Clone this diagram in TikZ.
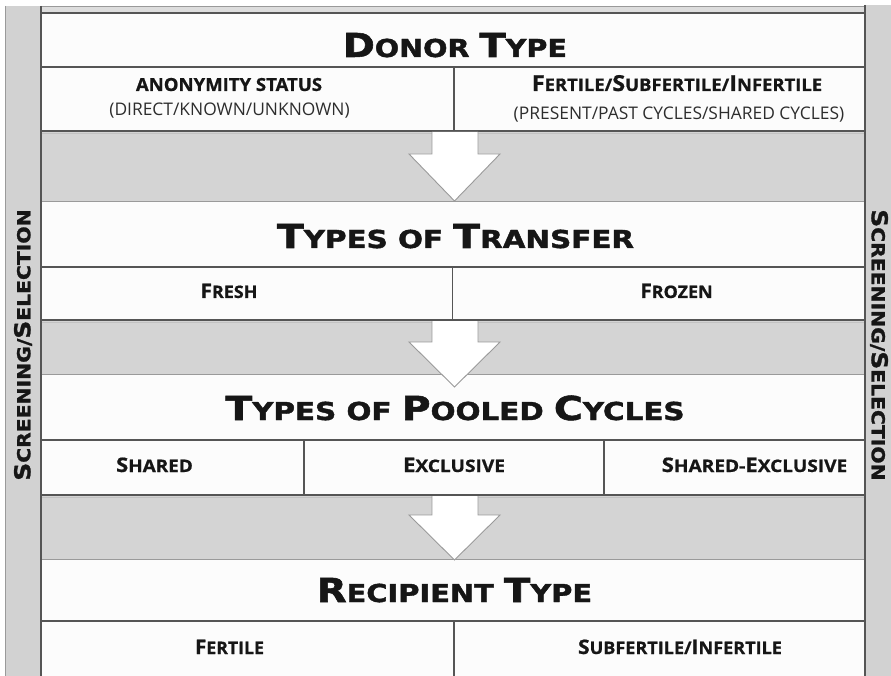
\documentclass[tikz,border=0pt]{standalone}
\usepackage{graphicx}
\usepackage{fontspec}
\setmainfont{Open Sans}
\newfontfamily\ttlfont{DejaVu Sans Bold}[FakeBold=1.6]
\newfontfamily\sidefont{DejaVu Sans Bold}[FakeBold=1.2]
\newfontfamily\subfont{Open Sans Bold}[FakeBold=0.8]
\definecolor{bandgray}{HTML}{D4D4D4}
\definecolor{bargray}{HTML}{D2D2D2}
\definecolor{linegray}{HTML}{555555}
\definecolor{lightline}{HTML}{9A9A9A}
\definecolor{cellwhite}{HTML}{FCFCFC}
\definecolor{inkc}{HTML}{161616}
\newcommand\TB[1]{{\fontsize{33}{33}\selectfont #1}}
\newcommand\SB[1]{{\fontsize{20}{20}\selectfont #1}}
\newcommand\HB[1]{{\fontsize{22}{22}\selectfont #1}}
\newcommand\RB[1]{{\fontsize{22}{22}\selectfont #1}}
\begin{document}
\begin{tikzpicture}[x=1pt,y=-1pt,
  titletext/.style={anchor=base, text=inkc, font=\ttlfont\fontsize{24.7}{25}\selectfont, inner sep=0pt},
  subtext/.style={anchor=base, text=inkc, font=\subfont\fontsize{17.2}{17}\selectfont, inner sep=0pt},
  headtext/.style={anchor=base, text=inkc, font=\subfont\fontsize{17.4}{18}\selectfont, inner sep=0pt},
  paren/.style={anchor=base, text=inkc!90, font=\fontsize{17.4}{18}\selectfont, inner sep=0pt},
  sidetext/.style={anchor=center, text=inkc, font=\sidefont\fontsize{18}{18}\selectfont, inner sep=0pt},
  rowline/.style={draw=linegray, line width=1.1pt},
  boldline/.style={draw=linegray, line width=1.8pt},
  bandline/.style={draw=lightline, line width=0.8pt},
  arrowshape/.style={fill=white, draw=lightline, line width=0.9pt, line join=miter}]
\useasboundingbox (0,0) rectangle (891,676);
\fill[white] (0,0) rectangle (891,676);
% main area
\fill[cellwhite] (41,13) rectangle (865,676);
\foreach \a/\b in {131/201, 320/374, 495/559}
  \fill[bandgray] (41,\a) rectangle (865,\b);
% top strip
\fill[bandgray!80] (41,6) rectangle (865,13);
\draw[bandline] (41,6.5) -- (865,6.5);
\draw[rowline] (41,13) -- (865,13);
% side bars
\fill[bargray] (5,6) rectangle (41,676);
\draw[lightline, line width=0.8pt] (5,6) -- (5,676);
\fill[bargray] (865,5) rectangle (891,676);
% horizontal lines
\foreach \y in {67, 267, 440, 621}
  \draw[rowline] (41,\y) -- (865,\y);
\foreach \y in {201, 374, 559}
  \draw[bandline] (41,\y) -- (865,\y);
\foreach \y in {131, 320, 495}{
  \draw[draw=lightline!60, line width=1.2pt] (41,\y+2.2) -- (865,\y+2.2);
  \draw[boldline] (41,\y) -- (865,\y);}
% vertical dividers
\draw[rowline] (454,67) -- (454,131);
\draw[rowline] (452.5,267) -- (452.5,320);
\draw[rowline] (304,440) -- (304,495);
\draw[rowline] (604,440) -- (604,495);
\draw[rowline] (454,621) -- (454,676);
% bar borders
\draw[linegray, line width=1.6pt] (41,6) -- (41,676);
\draw[linegray, line width=1.6pt] (865,5) -- (865,676);
% block arrows
\foreach \t/\b/\p in {132/154/201, 321/342/387, 496/515/560}
  \filldraw[arrowshape] (432,\t) -- (432,\b) -- (409,\b) -- (454.5,\p) -- (500,\b) -- (478,\b) -- (478,\t);
% titles
\node[titletext] (donor) at (455,57) {\scalebox{1.16}[1]{\TB{D}ONOR \TB{T}YPE}};
\node[titletext] (transfer) at (455.5,248) {\scalebox{1.19}[1]{\TB{T}YPES OF \TB{T}RANSFER}};
\node[titletext] (pooled) at (455,420) {\scalebox{1.19}[1]{\TB{T}YPES OF \TB{P}OOLED \TB{C}YCLES}};
\node[titletext] (recipient) at (454.5,602) {\scalebox{1.17}[1]{\TB{R}ECIPIENT \TB{T}YPE}};
% donor sub row
\node[subtext, font=\subfont\fontsize{18}{18}\selectfont] (anon) at (229,91) {\scalebox{1.03}[1]{ANONYMITY STATUS}};
\node[paren] (anonsub) at (229.5,116) {(DIRECT/KNOWN/UNKNOWN)};
\node[headtext] (fert) at (677,91) {\scalebox{1.06}[1]{\HB{F}ERTILE/\HB{S}UBFERTILE/\HB{I}NFERTILE}};
\node[paren] (fertsub) at (679,120) {(PRESENT/PAST CYCLES/SHARED CYCLES)};
% transfer sub row
\node[subtext] (fresh) at (229,298) {\scalebox{1.04}[1]{\SB{F}RESH}};
\node[subtext] (frozen) at (676.5,298) {\scalebox{1.04}[1]{\SB{F}ROZEN}};
% pooled sub row
\node[subtext] (shared) at (154.5,472) {\scalebox{1.1}[1]{\SB{S}HARED}};
\node[subtext] (exclusive) at (454,472) {\scalebox{1.11}[1]{\SB{E}XCLUSIVE}};
\node[subtext] (sharedex) at (754.5,472) {\scalebox{1.11}[1]{\SB{S}HARED-\SB{E}XCLUSIVE}};
% recipient sub row
\node[subtext] (rfert) at (229.5,654) {\scalebox{1.03}[1]{\SB{F}ERTILE}};
\node[subtext] (rsub) at (680,654) {\scalebox{1.05}[1]{\SB{S}UBFERTILE/\SB{I}NFERTILE}};
% side labels
\node[sidetext, rotate=90] (leftlab) at (23,345) {\scalebox{1.13}[1]{\RB{S}CREENING/\RB{S}ELECTION}};
\node[sidetext, rotate=-90] (rightlab) at (879,345) {\scalebox{1.13}[1]{\RB{S}CREENING/\RB{S}ELECTION}};
\end{tikzpicture}
\end{document}
